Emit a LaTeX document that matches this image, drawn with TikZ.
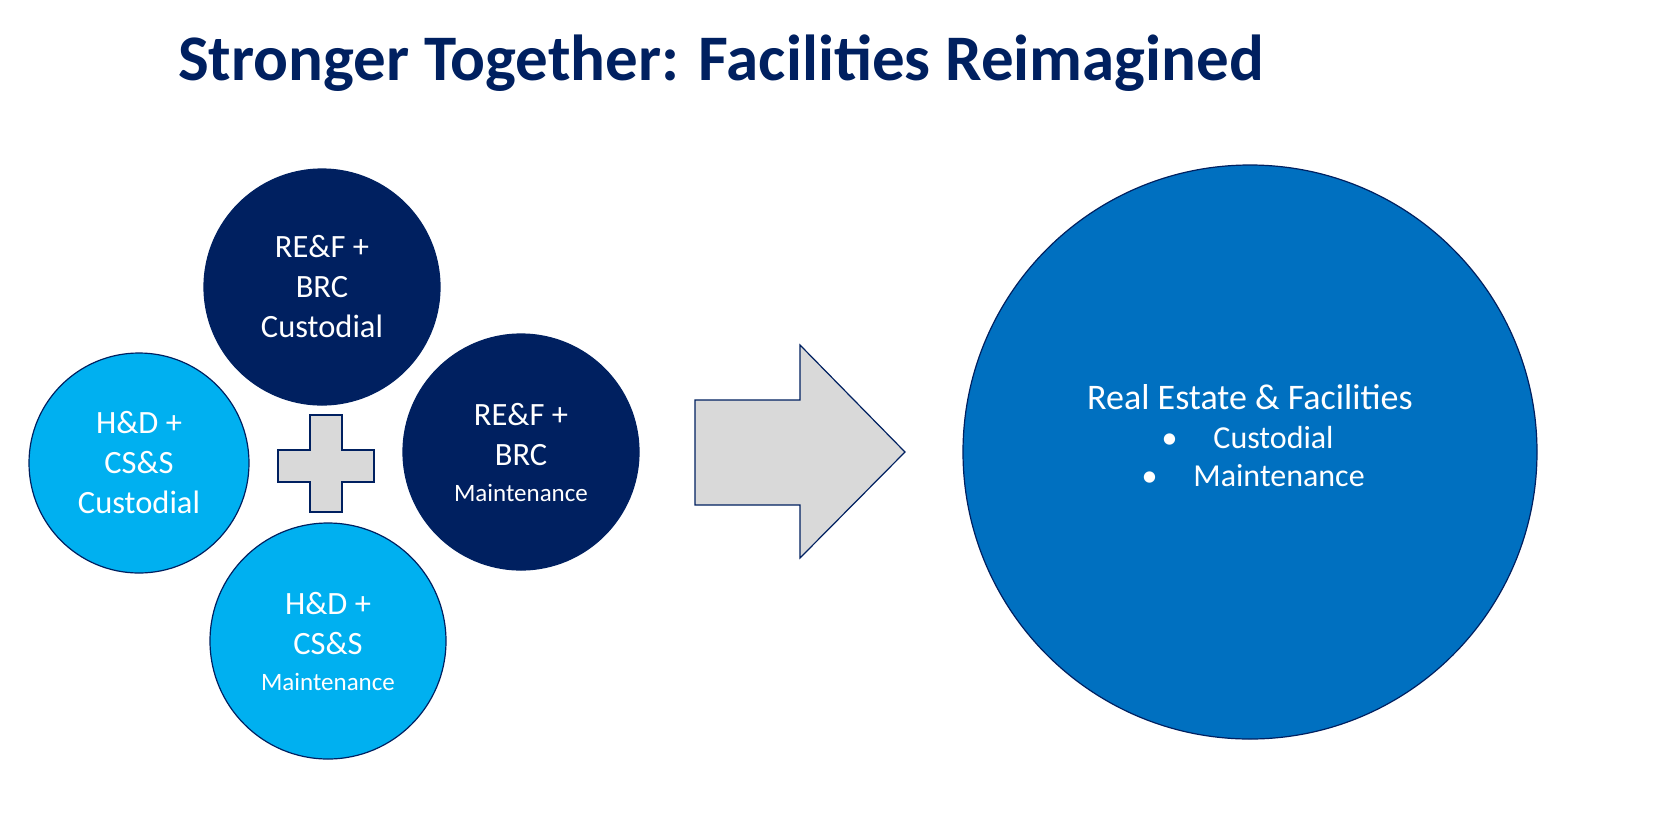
\documentclass[tikz,border=0pt]{standalone}
\usepackage{fontspec}
\setmainfont{Carlito}
\usetikzlibrary{positioning}
\definecolor{navy}{HTML}{002060}
\definecolor{skyblue}{HTML}{00B0F0}
\definecolor{midblue}{HTML}{0070C0}
\definecolor{lightgray}{HTML}{D9D9D9}
\begin{document}
\begin{tikzpicture}[x=1pt,y=-1pt,
    unit/.style={circle,draw=navy,line width=1.2pt,minimum size=#1,inner sep=0pt,text=white,align=center,font=\fontsize{32.5}{40}\selectfont}
    ]
    \useasboundingbox (0,0) rectangle (1679,823);
    % Title
    \node[text=navy,font=\fontsize{65}{70}\selectfont\bfseries] (title) at (721,63) {Stronger Together: Facilities Reimagined};
    % Units
    \node[unit=236pt,fill=navy] (topunit) at (322,287) {RE\&F +\\BRC\\Custodial};
    \node[unit=236pt,fill=navy] (rightunit) at (521,452) {RE\&F +\\BRC\\[-4pt]{\fontsize{25}{30}\selectfont Maintenance}};
    \node[unit=220pt,fill=skyblue] (leftunit) at (139,463) {H\&D +\\CS\&S\\Custodial};
    \node[unit=236pt,fill=skyblue] (bottomunit) at (328,641) {H\&D +\\CS\&S\\[-4pt]{\fontsize{25}{30}\selectfont Maintenance}};
    % Plus
    \draw[navy,line width=1.2pt,fill=lightgray] (310,415) -- (342,415) -- (342,450) -- (374,450) -- (374,482) -- (342,482) -- (342,512) -- (310,512) -- (310,482) -- (278,482) -- (278,450) -- (310,450) -- cycle;
    % Arrow
    \draw[navy,line width=1.2pt,fill=lightgray] (695,400) -- (800,400) -- (800,345) -- (905,452) -- (800,558) -- (800,505) -- (695,505) -- cycle;
    % Result
    \node[circle,draw=navy,line width=1.2pt,fill=midblue,minimum size=574pt,inner sep=0pt] (result) at (1250,452) {};
    \node[text=white,font=\fontsize{36}{40}\selectfont] (resulttitle) at (1250,397) {Real Estate \& Facilities};
    \node[text=white,font=\fontsize{32}{40}\selectfont,anchor=west] (custodial) at (1158,437) {\textbullet\hspace{36pt}Custodial};
    \node[text=white,font=\fontsize{32}{40}\selectfont,anchor=west] (maint) at (1138,476) {\textbullet\hspace{36pt}Maintenance};
\end{tikzpicture}
\end{document}
